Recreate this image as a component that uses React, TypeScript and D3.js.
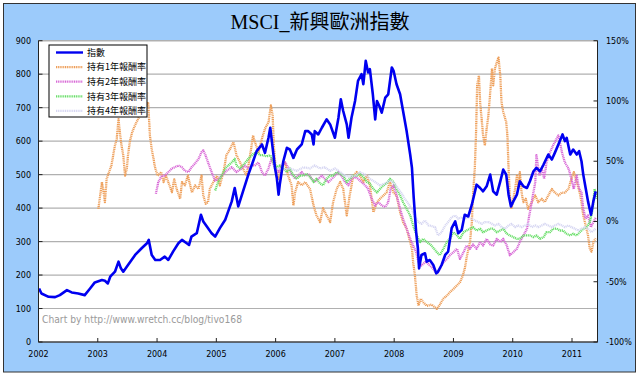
import React from 'react';
import * as d3 from 'd3';

type Pt = [number, number];

const years = [2002, 2003, 2004, 2005, 2006, 2007, 2008, 2009, 2010, 2011];
const leftTicks = [0, 100, 200, 300, 400, 500, 600, 700, 800, 900];
const rightTicks = [-100, -50, 0, 50, 100, 150];
const seriesNames = ['指數', '持有1年報酬率', '持有2年報酬率', '持有3年報酬率', '持有4年報酬率'];
const seriesColors = ['#0000F0', '#EE9E58', '#D868D6', '#68DE68', '#D6D6F2'];

const indexSeries: Pt[] = [
  [2002.01,160],[2002.05,145],[2002.17,135],[2002.28,134],[2002.36,140],[2002.48,155],[2002.56,148],[2002.67,145],[2002.78,140],[2002.87,160],[2002.95,178],
  [2003.07,185],[2003.12,183],[2003.17,175],[2003.21,195],[2003.29,210],[2003.35,240],[2003.39,220],[2003.43,210],[2003.51,230],[2003.63,260],[2003.74,280],[2003.83,295],[2003.86,305],[2003.91,260],[2003.97,245],
  [2004.05,245],[2004.13,255],[2004.19,245],[2004.27,270],[2004.36,295],[2004.42,305],[2004.50,295],[2004.54,290],[2004.58,315],[2004.67,325],[2004.74,380],[2004.78,360],[2004.84,345],[2004.92,325],[2004.98,315],
  [2005.06,340],[2005.15,365],[2005.20,390],[2005.26,420],[2005.31,460],[2005.37,405],[2005.45,450],[2005.54,500],[2005.62,540],[2005.68,570],[2005.77,590],[2005.82,565],[2005.88,610],[2005.91,640],[2005.95,580],[2005.99,520],
  [2006.02,490],[2006.05,440],[2006.07,470],[2006.13,540],[2006.19,580],[2006.24,575],[2006.30,550],[2006.36,575],[2006.44,590],[2006.50,630],[2006.55,630],[2006.61,620],[2006.64,590],[2006.66,630],[2006.72,620],[2006.78,640],[2006.86,665],[2006.92,650],
  [2007.00,610],[2007.06,670],[2007.10,725],[2007.14,690],[2007.20,650],[2007.23,610],[2007.28,670],[2007.34,720],[2007.39,780],[2007.45,800],[2007.48,770],[2007.52,840],[2007.56,805],[2007.59,815],[2007.64,740],[2007.68,665],[2007.71,720],[2007.75,705],[2007.79,685],[2007.85,730],[2007.90,740],[2007.96,820],[2007.99,810],
  [2008.04,770],[2008.10,740],[2008.15,690],[2008.21,630],[2008.27,560],[2008.30,520],[2008.33,430],[2008.37,330],[2008.40,280],[2008.42,220],[2008.46,260],[2008.52,265],[2008.55,240],[2008.60,245],[2008.66,230],[2008.71,205],[2008.74,210],[2008.80,230],[2008.86,260],[2008.91,270],[2008.97,340],
  [2009.03,360],[2009.08,325],[2009.14,335],[2009.19,380],[2009.25,375],[2009.31,410],[2009.35,440],[2009.39,470],[2009.45,460],[2009.50,450],[2009.56,465],[2009.62,500],[2009.67,450],[2009.73,440],[2009.79,480],[2009.84,515],[2009.89,500],[2009.93,440],[2009.97,405],
  [2010.01,420],[2010.07,440],[2010.12,480],[2010.18,465],[2010.24,460],[2010.29,480],[2010.35,510],[2010.40,520],[2010.46,510],[2010.52,530],[2010.60,560],[2010.66,545],[2010.71,565],[2010.77,590],[2010.84,620],[2010.88,600],[2010.91,610],[2010.97,560],
  [2011.02,575],[2011.08,560],[2011.12,570],[2011.16,540],[2011.19,500],[2011.23,460],[2011.27,420],[2011.32,380],[2011.36,420],[2011.40,450],
];

const ret1Year: Pt[] = [
  [2003.01,10.5],[2003.04,21.6],[2003.07,32.7],[2003.09,27],[2003.12,16],[2003.15,35.4],[2003.19,41],[2003.23,46.5],[2003.26,55],[2003.29,63],[2003.32,68.7],[2003.35,85],[2003.37,75],[2003.40,63],[2003.43,55],[2003.46,38],[2003.49,43.8],[2003.51,55],[2003.54,66],[2003.58,74],[2003.63,80],[2003.68,85],[2003.74,90.8],[2003.80,93.6],[2003.85,99],[2003.88,71],[2003.91,60],[2003.94,52],[2003.97,44],
  [2004.01,38],[2004.07,41],[2004.11,32.7],[2004.15,38],[2004.19,32.7],[2004.25,24.3],[2004.29,35],[2004.33,27],[2004.39,18.8],[2004.42,32.7],[2004.47,30],[2004.52,38],[2004.56,30],[2004.59,24],[2004.64,30],[2004.70,27],[2004.75,38],[2004.78,21.6],[2004.82,14.7],[2004.86,16],[2004.89,27],[2004.95,32.7],
  [2005.01,38],[2005.06,30],[2005.12,41],[2005.17,55],[2005.23,60],[2005.29,66],[2005.34,55],[2005.40,49],[2005.45,44],[2005.51,38],[2005.57,55],[2005.62,71.4],[2005.65,66],[2005.71,57.5],[2005.77,68.7],[2005.82,77],[2005.88,82.5],[2005.92,96.3],[2005.95,88],[2005.97,63],
  [2006.00,44],[2006.05,35.4],[2006.10,44],[2006.16,49],[2006.21,38],[2006.27,30],[2006.30,13.3],[2006.33,24.3],[2006.38,32.7],[2006.44,30],[2006.50,32.7],[2006.58,27],[2006.64,13.3],[2006.69,5],[2006.75,-0.5],[2006.80,11],[2006.86,5],[2006.92,-0.5],[2006.97,16],
  [2007.03,27],[2007.09,32.7],[2007.14,27],[2007.20,5],[2007.25,21.6],[2007.31,38],[2007.37,41],[2007.42,38],[2007.48,32.7],[2007.54,38],[2007.59,30],[2007.65,7.7],[2007.71,16],[2007.76,18.8],[2007.82,21.6],[2007.87,24],[2007.93,32.7],[2007.99,24],
  [2008.04,21.6],[2008.10,7.7],[2008.15,-0.5],[2008.21,-6],[2008.27,-17],[2008.30,-22.7],[2008.32,-33.8],[2008.35,-44.9],[2008.38,-61.5],[2008.41,-69.8],[2008.45,-64],[2008.49,-67],[2008.55,-70],[2008.63,-69],[2008.72,-72.5],[2008.77,-69],[2008.83,-64],[2008.89,-61.5],[2008.94,-58.7],
  [2009.00,-56],[2009.06,-53],[2009.11,-50.4],[2009.16,-44.8],[2009.19,-39.3],[2009.23,-28],[2009.28,-17],[2009.31,-0.5],[2009.33,21.6],[2009.36,44],[2009.38,71.4],[2009.40,113],[2009.43,121],[2009.45,99],[2009.48,82.5],[2009.50,71.4],[2009.53,63],[2009.56,77],[2009.59,88],[2009.62,107],[2009.65,127],[2009.67,113],[2009.70,127],[2009.73,132],[2009.76,136],[2009.79,121],[2009.81,99],[2009.84,91],[2009.89,82.5],[2009.91,71.4],[2009.93,44],[2009.95,21.6],[2009.98,10.5],
  [2010.01,18.8],[2010.04,27],[2010.07,38],[2010.09,27],[2010.12,41],[2010.15,24],[2010.18,16],[2010.22,18.8],[2010.26,10.5],[2010.32,16],[2010.38,21.6],[2010.43,16],[2010.49,18.8],[2010.54,16],[2010.60,21.6],[2010.66,27],[2010.71,24],[2010.77,21.6],[2010.83,24],[2010.88,24],[2010.94,27],[2010.99,35.4],
  [2011.03,41],[2011.08,32.7],[2011.13,24],[2011.16,16],[2011.19,5],[2011.23,-3.3],[2011.27,-11.6],[2011.30,-22.7],[2011.33,-25],[2011.36,-17],[2011.40,-14],
];

const ret2Year: Pt[] = [
  [2003.98,23],[2004.02,32.7],[2004.08,38],[2004.13,38],[2004.19,41],[2004.25,44],[2004.30,45],[2004.36,46.5],[2004.42,45],[2004.47,42],[2004.53,41],[2004.58,45],[2004.64,48],[2004.70,52],[2004.75,57.5],[2004.78,59],[2004.81,56],[2004.86,49],[2004.92,41],[2004.98,34],
  [2005.03,35],[2005.09,38],[2005.17,42],[2005.26,45],[2005.34,41],[2005.43,44],[2005.48,46.5],[2005.54,44],[2005.60,46.5],[2005.65,46.5],[2005.71,49],[2005.77,41],[2005.82,38],[2005.88,44],[2005.93,52],[2005.99,44],
  [2006.05,41],[2006.10,46.5],[2006.16,49],[2006.21,45],[2006.27,39.6],[2006.33,35.4],[2006.38,38],[2006.44,41],[2006.50,38],[2006.55,39.6],[2006.61,35.4],[2006.66,32.7],[2006.72,35.4],[2006.78,38],[2006.83,35.4],[2006.89,32.7],[2006.95,35.4],
  [2007.00,38],[2007.06,41],[2007.11,38],[2007.17,32.7],[2007.23,30],[2007.28,35.4],[2007.34,37],[2007.39,35.4],[2007.45,32.7],[2007.51,30],[2007.56,27],[2007.62,18.8],[2007.68,13.3],[2007.73,16],[2007.79,13.3],[2007.85,12],[2007.90,16],[2007.94,27],[2007.99,30],
  [2008.04,21.6],[2008.10,10.5],[2008.15,2.2],[2008.21,-6],[2008.27,-14.4],[2008.32,-20],[2008.37,-25.5],[2008.41,-33.8],[2008.46,-36.5],[2008.52,-33.8],[2008.55,-33.8],[2008.60,-36.5],[2008.66,-39.3],[2008.72,-43.4],[2008.77,-39.3],[2008.83,-33.8],[2008.89,-31],[2008.94,-28],
  [2009.00,-25.5],[2009.06,-22.7],[2009.11,-31],[2009.17,-25.5],[2009.22,-20],[2009.28,-22.7],[2009.33,-19],[2009.39,-22.7],[2009.45,-17],[2009.50,-20],[2009.56,-14.4],[2009.62,-19],[2009.67,-20],[2009.73,-14.4],[2009.79,-17],[2009.84,-14.4],[2009.90,-20],[2009.95,-28],
  [2010.01,-25.5],[2010.07,-22.7],[2010.12,-17],[2010.18,-11.6],[2010.24,-6],[2010.28,5],[2010.32,16],[2010.38,32.7],[2010.40,55],[2010.45,38],[2010.49,44],[2010.53,35.4],[2010.57,49],[2010.63,57.5],[2010.68,63],[2010.74,68.7],[2010.77,71.4],[2010.83,57.5],[2010.88,49],[2010.94,44],[2010.99,35.4],
  [2011.03,27],[2011.08,38],[2011.12,27],[2011.16,24],[2011.19,10.5],[2011.23,2.2],[2011.27,5],[2011.32,-4.7],[2011.36,-0.5],[2011.40,3],
];

const ret3Year: Pt[] = [
  [2004.98,25.7],[2005.03,32.7],[2005.09,38],[2005.15,44],[2005.20,46.5],[2005.26,49],[2005.31,52],[2005.34,46.5],[2005.40,44],[2005.45,46.5],[2005.54,52],[2005.62,56],[2005.68,57.5],[2005.74,55],[2005.79,55],[2005.85,54],[2005.91,55],[2005.96,49],
  [2006.02,45],[2006.07,46.5],[2006.13,44],[2006.19,41],[2006.24,44],[2006.30,38],[2006.36,35.4],[2006.41,38],[2006.47,38],[2006.52,39.6],[2006.58,37],[2006.64,32.7],[2006.69,35.4],[2006.75,31.5],[2006.80,30],[2006.86,35.4],[2006.92,38],[2006.97,38],
  [2007.03,41],[2007.09,39.6],[2007.14,38],[2007.20,32.7],[2007.25,35.4],[2007.31,38],[2007.37,38],[2007.42,39.6],[2007.48,37],[2007.54,32.7],[2007.59,31.5],[2007.65,27],[2007.71,24],[2007.76,27],[2007.82,30],[2007.87,31.5],[2007.93,35.4],[2007.99,32.7],
  [2008.04,27],[2008.10,21.6],[2008.15,16],[2008.21,10.5],[2008.27,5],[2008.32,-3.3],[2008.38,-11.6],[2008.44,-17],[2008.49,-14.4],[2008.55,-17],[2008.63,-20],[2008.72,-25.5],[2008.77,-28],[2008.83,-22.7],[2008.89,-17],[2008.94,-14.4],
  [2009.00,-8.9],[2009.06,-11.6],[2009.11,-14.4],[2009.17,-8.9],[2009.22,-7.5],[2009.28,-6],[2009.33,-4.7],[2009.39,-7.5],[2009.45,-6],[2009.50,-8.9],[2009.56,-7.5],[2009.62,-6],[2009.67,-6],[2009.73,-8.9],[2009.79,-7.5],[2009.84,-6],[2009.90,-10.2],[2009.95,-11.6],
  [2010.01,-13],[2010.07,-14.4],[2010.12,-14.4],[2010.18,-11.6],[2010.24,-11.6],[2010.29,-11.6],[2010.35,-13],[2010.40,-11.6],[2010.46,-14.4],[2010.52,-13],[2010.57,-8.9],[2010.63,-8.9],[2010.68,-6],[2010.74,-6],[2010.80,-7.5],[2010.85,-7.5],[2010.91,-10.2],[2010.97,-11.6],
  [2011.02,-10.2],[2011.08,-11.6],[2011.13,-8.9],[2011.19,-6],[2011.25,-4.7],[2011.30,-0.5],[2011.35,10.5],[2011.38,27],[2011.42,18.8],
];

const ret4Year: Pt[] = [
  [2006.02,44],[2006.13,43],[2006.24,44],[2006.36,42],[2006.47,45],[2006.58,44],[2006.66,46.5],[2006.75,44],[2006.83,45],[2006.92,42],
  [2007.00,44],[2007.09,41],[2007.17,38],[2007.25,37],[2007.34,38],[2007.42,41],[2007.48,39.6],[2007.54,38],[2007.59,35.4],[2007.68,32.7],[2007.76,30],[2007.85,31.5],[2007.93,34],
  [2008.01,31.5],[2008.07,27],[2008.13,23],[2008.18,18.8],[2008.24,14.7],[2008.30,10.5],[2008.35,3.6],[2008.41,-0.5],[2008.46,-2],[2008.52,0.8],[2008.58,-3.3],[2008.60,-3.3],[2008.69,-4.7],[2008.74,-11.6],[2008.80,-8.9],[2008.86,-3.3],[2008.91,-0.5],[2008.97,3.6],
  [2009.03,5],[2009.08,2.2],[2009.14,3.6],[2009.19,2.2],[2009.25,3.6],[2009.31,2.2],[2009.36,0.8],[2009.42,-0.5],[2009.48,-2],[2009.53,-0.5],[2009.59,-0.5],[2009.65,-2],[2009.70,-3.3],[2009.76,-2],[2009.81,-4.7],[2009.87,-6],[2009.93,-3.3],[2009.98,-2],
  [2010.04,-4.7],[2010.09,-3.3],[2010.15,-4.7],[2010.21,-3.3],[2010.26,-2],[2010.32,-4.7],[2010.38,-3.3],[2010.43,-4.7],[2010.49,-3.3],[2010.54,-2],[2010.60,-3.3],[2010.66,-4.7],[2010.71,-3.3],[2010.77,-2],[2010.83,-3.3],[2010.88,-4.7],[2010.94,-3.3],[2010.99,-4.7],
  [2011.05,-6],[2011.11,-7.5],[2011.16,-6],[2011.22,-4.7],[2011.27,-6],[2011.33,-8.9],[2011.40,-6],
];

const returnSeries: Pt[][] = [ret1Year, ret2Year, ret3Year, ret4Year];

export default function App() {
  const W = 640, H = 376;
  const L = 38.5, R = 597.5, T = 40.7, B = 342;
  const x = d3.scaleLinear().domain([2002, 2011.43]).range([L, R]);
  const yL = d3.scaleLinear().domain([0, 900]).range([B, T]);
  const yR = d3.scaleLinear().domain([-100, 150]).range([B, T]);
  const lineL = d3.line<Pt>().x(d => x(d[0])).y(d => yL(d[1]));
  const lineR = d3.line<Pt>().x(d => x(d[0])).y(d => yR(d[1]));
  const axisFont = "'DejaVu Sans', Verdana, sans-serif";
  const cjk = "'Noto Sans CJK TC', 'Noto Sans CJK SC', sans-serif";
  const dots = '1.1 0.7';

  const legendX = 49, legendY = 45, legendW = 98, legendH = 72;
  const legendRows = seriesNames.map((n, i) => ({ n, i, y: legendY + 7.5 + i * 14.6 }));

  return (
    <svg width={W} height={H} style={{ position: 'absolute', left: 0, top: 0, display: 'block' }}
      xmlns="http://www.w3.org/2000/svg">
      <rect x={0} y={0} width={W} height={H} fill="#ffffff" />
      <rect x={3.5} y={3.5} width={632} height={368.5} fill="#9CCBFB" stroke="#333" strokeWidth={1} />
      <text x={320} y={29} textAnchor="middle" fontSize={20}
        fontFamily={`'Liberation Serif', 'Noto Sans CJK TC', serif`} fill="#000">MSCI_新興歐洲指數</text>

      {/* plot area */}
      <rect x={L} y={T} width={R - L} height={B - T} fill="#ffffff" stroke="#808080" strokeWidth={1} />
      {leftTicks.filter(t => t > 0).map(t => (
        <line key={'g' + t} x1={L} x2={R} y1={yL(t)} y2={yL(t)} stroke="#B0B0B0" strokeWidth={1.2} />
      ))}

      {/* watermark */}
      <text x={42} y={323} fontSize={10} fontFamily={axisFont} fill="#9A9A9A"
        textLength={200} lengthAdjust="spacingAndGlyphs">Chart by http://www.wretch.cc/blog/tivo168</text>

      {/* return series (secondary axis) */}
      {returnSeries.map((s, i) => (
        <path key={'r' + i} d={lineR(s) || ''} fill="none" stroke={seriesColors[i + 1]}
          strokeWidth={2.3} strokeDasharray={dots} strokeLinejoin="round" />
      ))}
      {/* index series */}
      <path d={lineL(indexSeries) || ''} fill="none" stroke={seriesColors[0]} strokeWidth={2.6} strokeLinejoin="round" />

      {/* axes */}
      <line x1={L} x2={L} y1={T} y2={B} stroke="#222" strokeWidth={1} />
      <line x1={R} x2={R} y1={T} y2={B} stroke="#222" strokeWidth={1} />
      <line x1={L} x2={R} y1={B} y2={B} stroke="#222" strokeWidth={1} />
      {leftTicks.map(t => (
        <g key={'lt' + t}>
          <line x1={L} x2={L + 4} y1={yL(t)} y2={yL(t)} stroke="#222" />
          <text x={31} y={yL(t) + 3} textAnchor="end" fontSize={8} fontFamily={axisFont} fill="#000">{t}</text>
        </g>
      ))}
      {rightTicks.map(t => (
        <g key={'rt' + t}>
          <line x1={R - 4} x2={R} y1={yR(t)} y2={yR(t)} stroke="#222" />
          <text x={606} y={yR(t) + 3} textAnchor="start" fontSize={8} fontFamily={axisFont} fill="#000">{t + '%'}</text>
        </g>
      ))}
      {years.map(yv => (
        <g key={'yt' + yv}>
          <line x1={x(yv)} x2={x(yv)} y1={B - 4} y2={B} stroke="#222" />
          <text x={x(yv)} y={357} textAnchor="middle" fontSize={8} fontFamily={axisFont} fill="#000">{yv}</text>
        </g>
      ))}

      {/* legend */}
      <rect x={legendX} y={legendY} width={legendW} height={legendH} fill="#ffffff" stroke="#000" strokeWidth={1} />
      {legendRows.map(r => (
        <g key={'lg' + r.i}>
          <line x1={56} x2={83} y1={r.y} y2={r.y} stroke={seriesColors[r.i]}
            strokeWidth={r.i === 0 ? 2.4 : 2.3} strokeDasharray={r.i === 0 ? undefined : dots} />
          <text x={87} y={r.y + 3.2} fontSize={9} fontFamily={cjk} fill="#000">{r.n}</text>
        </g>
      ))}
    </svg>
  );
}
